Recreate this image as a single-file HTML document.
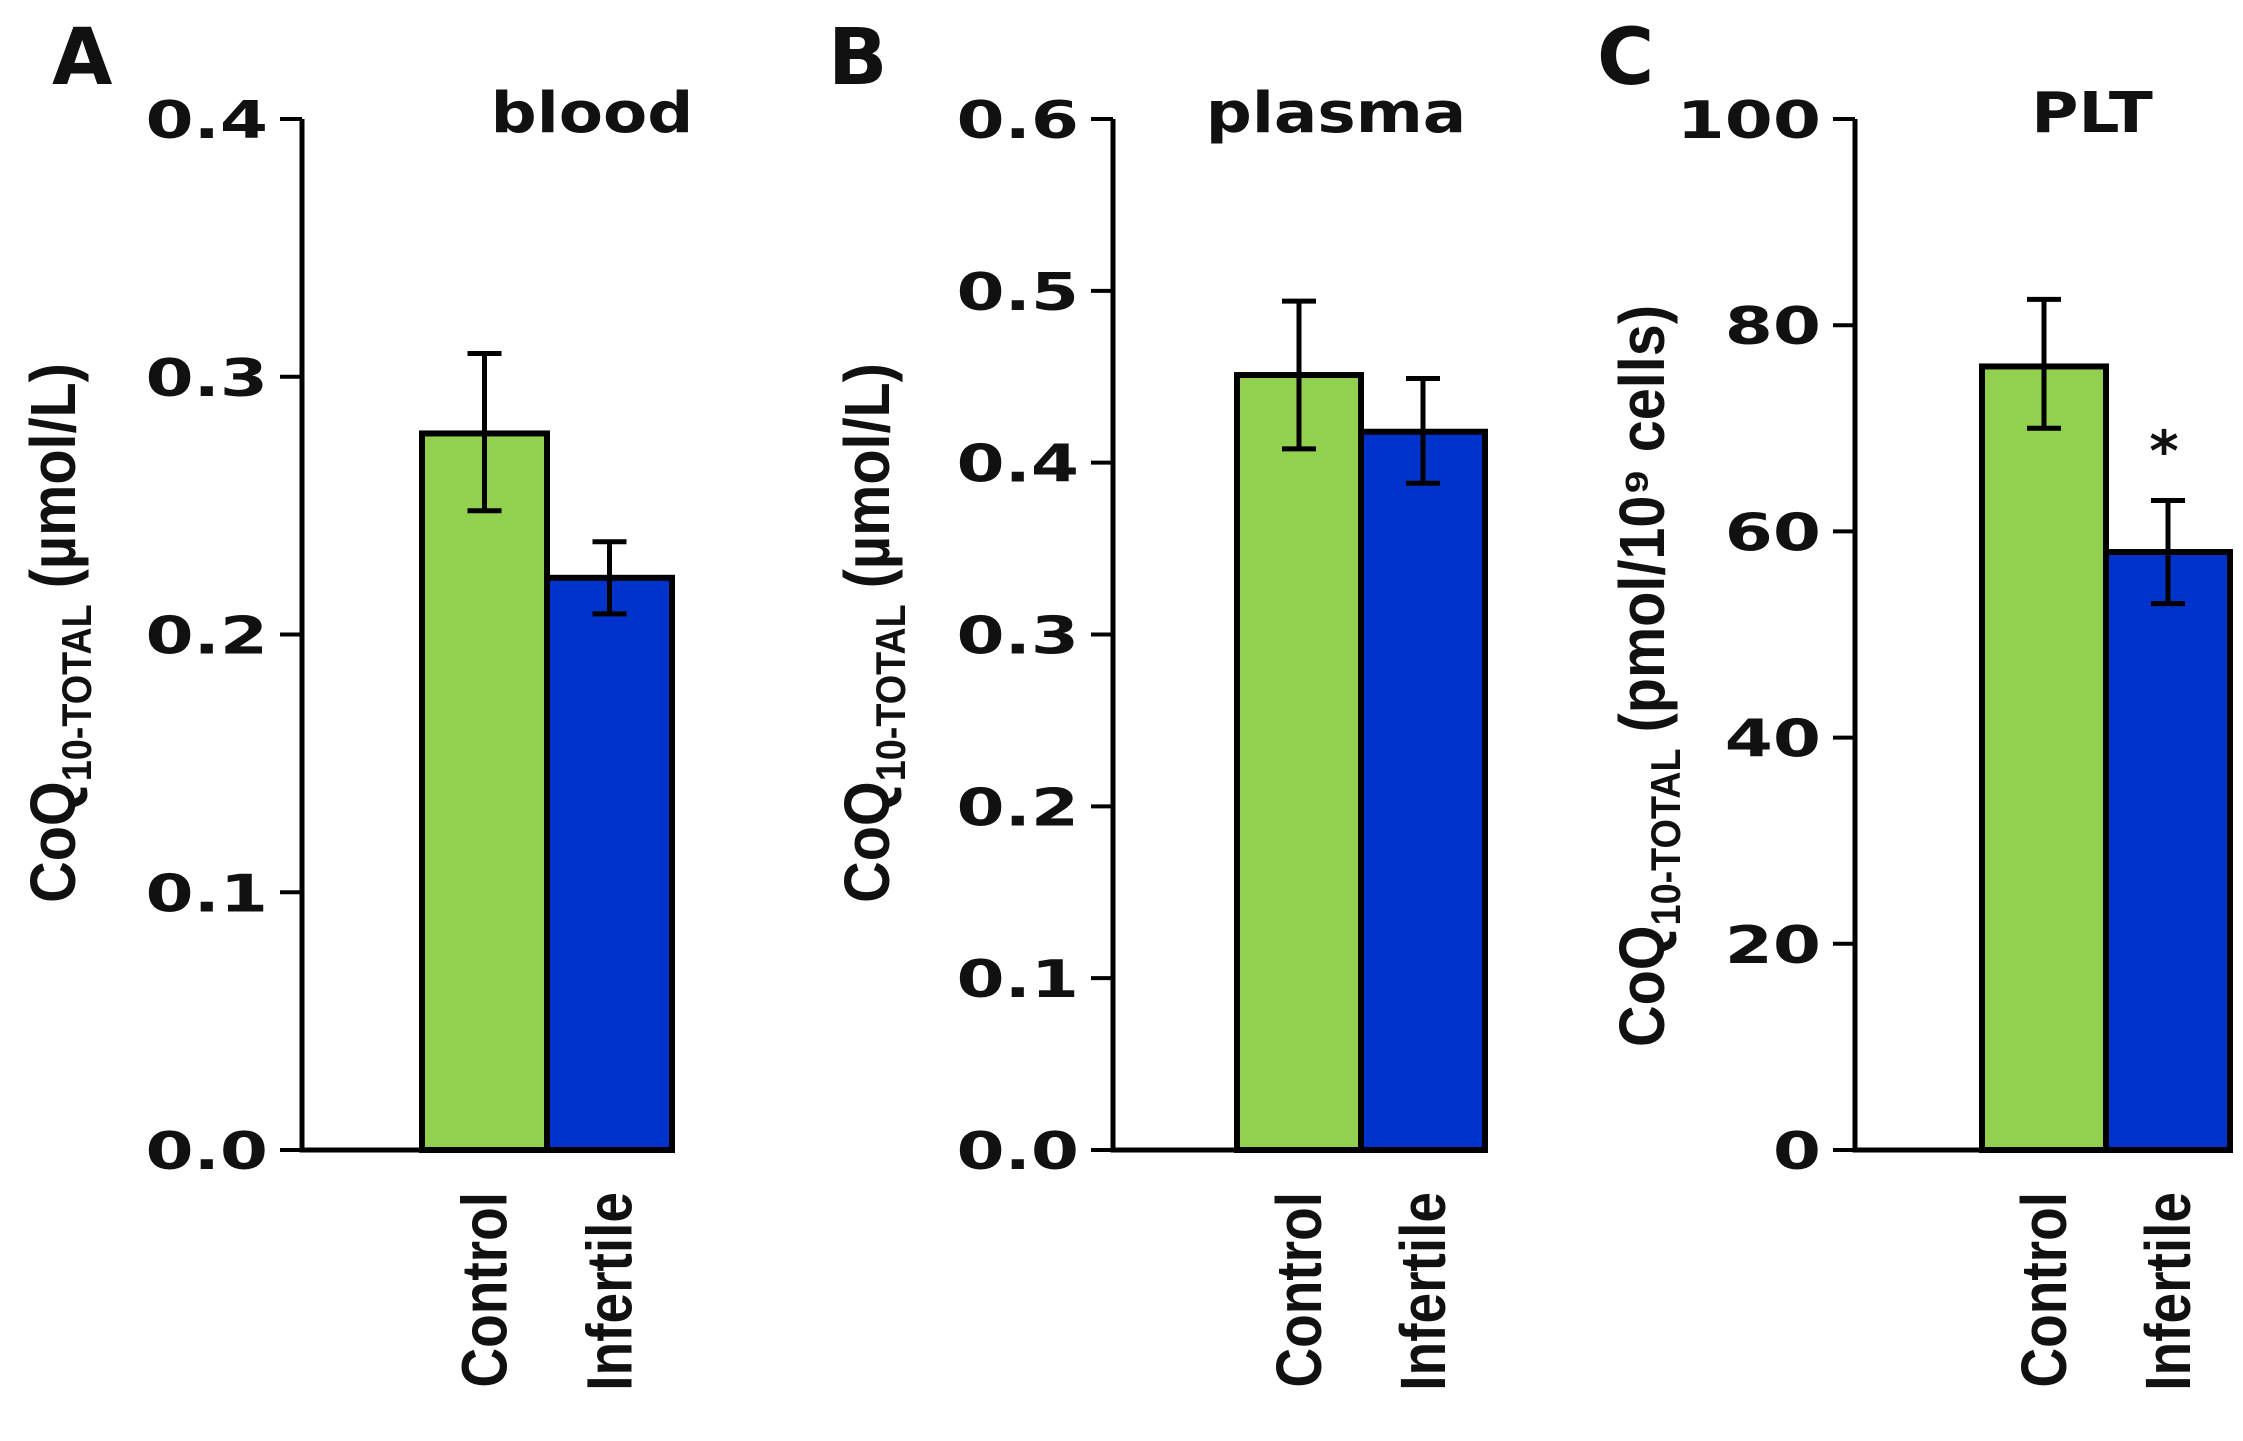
<!DOCTYPE html>
<html><head><meta charset="utf-8"><style>
html,body{margin:0;padding:0;background:#fff;}
svg{display:block;}
.tick{font-family:"DejaVu Sans","Liberation Sans",sans-serif;font-weight:bold;font-size:52px;fill:#111;}
.ttl{font-family:"DejaVu Sans","Liberation Sans",sans-serif;font-weight:bold;font-size:56px;fill:#111;}
.pl{font-family:"DejaVu Sans","Liberation Sans",sans-serif;font-weight:bold;font-size:78px;fill:#111;}
.yt{font-family:"Liberation Sans Narrow","Liberation Sans",sans-serif;font-weight:bold;font-size:64px;fill:#111;}
.cat{font-family:"Liberation Sans Narrow","Liberation Sans",sans-serif;font-weight:bold;font-size:64px;fill:#111;}
</style></head><body>
<svg id="chart" width="2243" height="1441" xmlns="http://www.w3.org/2000/svg"></svg>
<script>
const categories = ["Control", "Infertile"];
const bloodValues = [0.278, 0.222];
const bloodErrLow = [0.248, 0.208];
const bloodErrHigh = [0.309, 0.236];
const plasmaValues = [0.451, 0.418];
const plasmaErrLow = [0.408, 0.388];
const plasmaErrHigh = [0.494, 0.449];
const pltValues = [76, 58];
const pltErrLow = [70, 53];
const pltErrHigh = [82.5, 63];
const bloodTicks = ["0.0","0.1","0.2","0.3","0.4"];
const plasmaTicks = ["0.0","0.1","0.2","0.3","0.4","0.5","0.6"];
const pltTicks = ["0","20","40","60","80","100"];
const colors = ["#92d050", "#0033cc"];

const svg = document.getElementById('chart');
const NS = "http://www.w3.org/2000/svg";
function mk(tag, attrs, parent){
  const e = document.createElementNS(NS, tag);
  for (const k in attrs) e.setAttribute(k, attrs[k]);
  (parent||svg).appendChild(e);
  return e;
}
const TOP = 119, BOT = 1150;

function panel(o){
  const g = mk('g', {});
  
  
  const maxV = parseFloat(o.ticks[o.ticks.length-1]);
  const y = v => BOT - (v / maxV) * (BOT - TOP);
  o.ticks.forEach(t => {
    const v = parseFloat(t), yy = y(v);
    const tl = mk('line', {x1:o.ax-22, x2:o.ax, y1:yy, y2:yy, stroke:'#000','stroke-width':4}, g);
    
    
    const tx = mk('text', {x:0, y:0, 'text-anchor':'end', class:'tick', transform:'translate(' + (o.ax-34) + ',' + (yy+19) + ') scale(1.33,1)'}, g);
    tx.textContent = t;
    
    
  });
  o.vals.forEach((v, i) => {
    const x0 = o.bx + i*o.bw;
    const r = mk('rect', {x:x0, y:y(v), width:o.bw, height:BOT-y(v), fill:colors[i], stroke:'#000','stroke-width':6}, g);
    
    
    const cx = x0 + o.bw/2;
    const eg = mk('g', {stroke:'#000','stroke-width':5}, g);
    
    
    mk('line', {x1:cx, x2:cx, y1:y(o.lo[i]), y2:y(o.hi[i])}, eg);
    mk('line', {x1:cx-17, x2:cx+17, y1:y(o.lo[i]), y2:y(o.lo[i])}, eg);
    mk('line', {x1:cx-17, x2:cx+17, y1:y(o.hi[i]), y2:y(o.hi[i])}, eg);
    const ct = mk('text', {x:0, y:0, 'text-anchor':'end', class:'cat', transform:'translate(' + (cx+22) + ',1192) rotate(-90) scale(0.86,1)'}, g);
    ct.textContent = categories[i];
    
    
  });
  const axl = mk('path', {d:'M' + o.ax + ' ' + TOP + ' L' + o.ax + ' ' + BOT + ' L' + (o.bx + 2*o.bw + 2) + ' ' + BOT, fill:'none', stroke:'#000','stroke-width':5}, g);
  
  
  const tt = mk('text', {x:0, y:0, 'text-anchor':'middle', class:'ttl', transform:'translate(' + o.tx + ',132) scale(1.15,1)'}, g);
  tt.textContent = o.title;
  
  
  const pl = mk('text', {x:o.lx, y:84, class:'pl'}, g);
  pl.textContent = o.letter;
  
  
  const yt = mk('text', {x:0, y:0, 'text-anchor':'middle', class:'yt', transform:'translate(' + (o.ytx+22) + ',' + o.yty + ') rotate(-90) scale(0.9,1)'}, g);
  yt.innerHTML = 'CoQ<tspan font-size="42" dy="16">10-TOTAL</tspan><tspan dy="-16"> (' + o.unit + ')</tspan>';
  
  
  return {g, y};
}

panel({key:'blood', ticks:bloodTicks, vals:bloodValues, lo:bloodErrLow, hi:bloodErrHigh, ax:302, bx:422, bw:125, title:'blood', tx:592, letter:'A', lx:52, ytx:53, yty:633, unit:'µmol/L'});
panel({key:'plasma', ticks:plasmaTicks, vals:plasmaValues, lo:plasmaErrLow, hi:plasmaErrHigh, ax:1113, bx:1237, bw:124, title:'plasma', tx:1336, letter:'B', lx:828, ytx:867, yty:633, unit:'µmol/L'});
const pc = panel({key:'plt', ticks:pltTicks, vals:pltValues, lo:pltErrLow, hi:pltErrHigh, ax:1855, bx:1982, bw:124, title:'PLT', tx:2092, letter:'C', lx:1597, ytx:1642, yty:676, unit:'pmol/10⁹ cells'});
const star = mk('text', {x:2164, y:0, 'text-anchor':'middle', class:'ttl', 'font-size':'32'}, pc.g);
star.setAttribute('y', pc.y(pltErrHigh[1]) - 30);
star.textContent = '*';


</script>
</body></html>
